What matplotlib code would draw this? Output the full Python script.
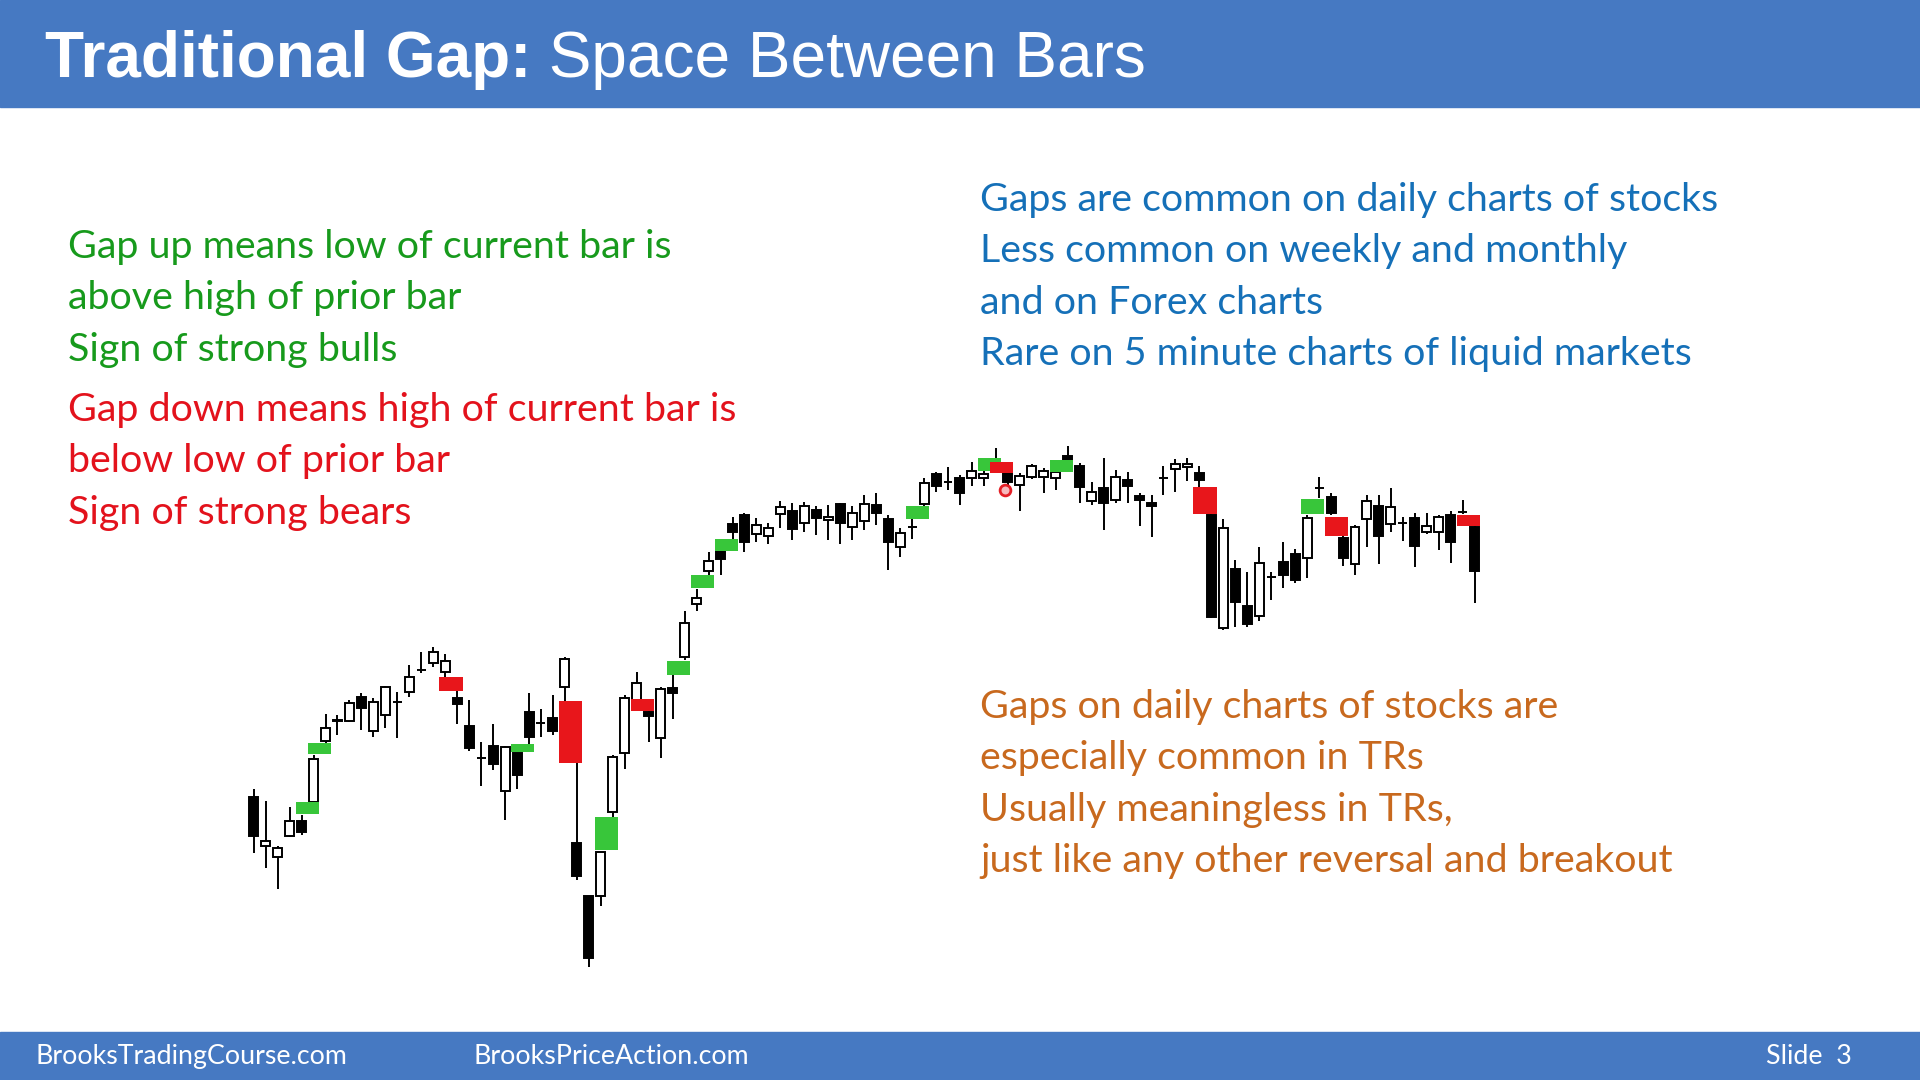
import matplotlib
matplotlib.use("Agg")
import matplotlib.pyplot as plt
from matplotlib.patches import Rectangle

# bar data (arbitrary price units)
opens = [203, 154, 143, 164, 179, 198, 259, 279, 279, 303, 269, 285, 298, 308, 330, 337, 328, 302,
         274, 242, 254, 209, 247, 288, 277, 282, 313, 157, 104, 104, 188, 247, 300, 288, 262, 312,
         343, 396, 429, 449, 476, 485, 466, 464, 486, 489, 477, 490, 480, 496, 473, 479, 495, 481,
         453, 473, 496, 526, 518, 522, 522, 522, 536, 527, 515, 523, 523, 522, 544, 534, 499, 512,
         500, 520, 504, 497, 522, 531, 533, 527, 485, 372, 431, 394, 384, 423, 438, 446, 442, 512,
         503, 462, 436, 481, 494, 476, 477, 482, 468, 468, 485, 488, 473]
highs = [211, 199, 154, 193, 185, 245, 286, 285, 300, 307, 302, 314, 308, 335, 348, 353, 346, 309,
         300, 258, 276, 254, 247, 307, 291, 305, 343, 237, 104, 148, 245, 305, 328, 289, 313, 325,
         389, 411, 448, 453, 483, 487, 482, 477, 499, 497, 498, 494, 495, 497, 494, 505, 507, 485,
         472, 481, 522, 528, 533, 525, 538, 530, 552, 535, 527, 536, 532, 533, 554, 537, 518, 542,
         530, 528, 507, 505, 534, 541, 542, 534, 486, 481, 440, 428, 453, 428, 458, 451, 485, 523,
         507, 464, 475, 505, 505, 512, 483, 487, 487, 485, 489, 500, 474]
lows = [147, 132, 111, 163, 165, 197, 257, 265, 278, 270, 263, 272, 262, 303, 327, 333, 323, 276,
        249, 214, 230, 180, 211, 256, 263, 265, 299, 120, 33, 94, 183, 231, 300, 258, 242, 281,
        340, 389, 425, 425, 461, 448, 458, 456, 472, 460, 468, 465, 460, 456, 460, 470, 475, 430,
        443, 461, 494, 508, 510, 495, 514, 514, 534, 514, 489, 521, 507, 510, 532, 497, 495, 470,
        497, 497, 474, 463, 505, 508, 519, 513, 382, 370, 373, 373, 379, 400, 412, 417, 422, 502,
        485, 434, 425, 453, 436, 468, 459, 433, 466, 450, 437, 486, 397]
closes = [164, 159, 152, 179, 168, 241, 272, 280, 297, 292, 298, 313, 298, 323, 330, 348, 339, 296,
          252, 242, 236, 253, 225, 263, 277, 269, 341, 124, 42, 148, 243, 302, 317, 284, 311, 307,
          377, 402, 439, 441, 468, 458, 475, 472, 493, 471, 494, 482, 483, 477, 487, 496, 487, 458,
          467, 473, 517, 514, 518, 507, 529, 526, 540, 518, 524, 534, 529, 528, 538, 513, 508, 497,
          523, 514, 500, 494, 522, 536, 536, 520, 383, 472, 398, 376, 437, 423, 425, 420, 482, 512,
          487, 442, 473, 499, 464, 493, 477, 454, 474, 483, 458, 488, 429]

# highlighted gaps: bar index (gap vs prior bar), low, high, kind
gap_bars = [5, 6, 17, 23, 27, 30, 33, 36, 38, 40, 56, 62, 63, 68, 80, 89, 91, 102]
gap_lows = [186, 246, 309, 248, 237, 150, 289, 325, 412, 449, 481, 529, 527, 528, 486, 486, 464, 474]
gap_highs = [198, 257, 323, 256, 299, 183, 301, 339, 425, 461, 494, 542, 538, 540, 513, 501, 483, 485]
gap_kinds = ["up", "up", "down", "up", "down", "up", "down", "up", "up", "up", "up", "up", "down",
             "up", "down", "up", "down", "down"]

title_bold = "Traditional Gap:"
title_rest = " Space Between Bars"
bull_lines = ["Gap up means low of current bar is", "above high of prior bar", "Sign of strong bulls"]
bear_lines = ["Gap down means high of current bar is", "below low of prior bar", "Sign of strong bears"]
blue_lines = ["Gaps are common on daily charts of stocks", "Less common on weekly and monthly",
              "and on Forex charts", "Rare on 5 minute charts of liquid markets"]
orange_lines = ["Gaps on daily charts of stocks are", "especially common in TRs",
                "Usually meaningless in TRs,", "just like any other reversal and breakout"]

W, H = 1920, 1080
band = "#4679C2"
body_font = "Lato"

fig = plt.figure(figsize=(19.2, 10.8), dpi=100)
fig.patch.set_facecolor("white")


def fx(px):
    return px / W


def fy(py):
    return 1 - py / H


fig.patches.append(Rectangle((0, fy(107)), 1, 107 / H, transform=fig.transFigure,
                             color=band, zorder=0))
fig.patches.append(Rectangle((0, 0), 1, 48 / H, transform=fig.transFigure,
                             color=band, zorder=0))

# candle chart
ax = fig.add_axes([fx(247.7), fy(975), 1233 / W, 535 / H])
ax.set_xlim(-0.5, len(opens) - 0.5)
ax.set_ylim(25, 560)
ax.axis("off")

bw = 0.75
for i in range(len(opens)):
    o, h, l, c = opens[i], highs[i], lows[i], closes[i]
    ax.plot([i, i], [l, h], color="black", lw=1.4, zorder=2, solid_capstyle="butt")
    bottom = min(o, c)
    ht = max(abs(c - o), 0.3)
    face = "white" if c >= o else "black"
    ax.add_patch(Rectangle((i - bw / 2, bottom), bw, ht, facecolor=face,
                           edgecolor="black", lw=1.4, zorder=3))

for b, lo, hi, k in zip(gap_bars, gap_lows, gap_highs, gap_kinds):
    col = "#38C63A" if k == "up" else "#E8161B"
    ax.add_patch(Rectangle((b - 1.5, lo), 1.95, hi - lo, facecolor=col,
                           edgecolor="none", zorder=5))

# mouse pointer mark
ax.scatter([62.8], [510], s=60, facecolor="#F7B9BC", edgecolor="#E41F26", lw=2, zorder=6)

# title
t1 = fig.text(fx(45), fy(77), title_bold, color="white", fontsize=46, fontweight="bold",
              family="Liberation Sans", va="baseline")
fig.canvas.draw()
bb = t1.get_window_extent()
fig.text(bb.x1 / W, fy(77), title_rest, color="white", fontsize=46,
         family="Liberation Sans", va="baseline")

fs = 28.4
for k, s in enumerate(bull_lines):
    fig.text(fx(68), fy(258 + 51.4 * k), s, color="#179A1C", fontsize=fs,
             family=body_font, va="baseline")
for k, s in enumerate(bear_lines):
    fig.text(fx(68), fy(421 + 51.4 * k), s, color="#E3121C", fontsize=fs,
             family=body_font, va="baseline")
for k, s in enumerate(blue_lines):
    fig.text(fx(980), fy(211 + 51.4 * k), s, color="#1570B8", fontsize=fs,
             family=body_font, va="baseline")
for k, s in enumerate(orange_lines):
    fig.text(fx(980), fy(718 + 51.4 * k), s, color="#C8691E", fontsize=fs,
             family=body_font, va="baseline")

# footer
fs_foot = 19.3
fig.text(fx(35), fy(1064), "BrooksTradingCourse.com", color="white", fontsize=fs_foot,
         family=body_font, va="baseline")
fig.text(fx(474), fy(1064), "BrooksPriceAction.com", color="white", fontsize=fs_foot,
         family=body_font, va="baseline")
fig.text(fx(1766), fy(1064), "Slide  3", color="white", fontsize=fs_foot,
         family=body_font, va="baseline")

fig.savefig("out.png", dpi=100, facecolor="white")
